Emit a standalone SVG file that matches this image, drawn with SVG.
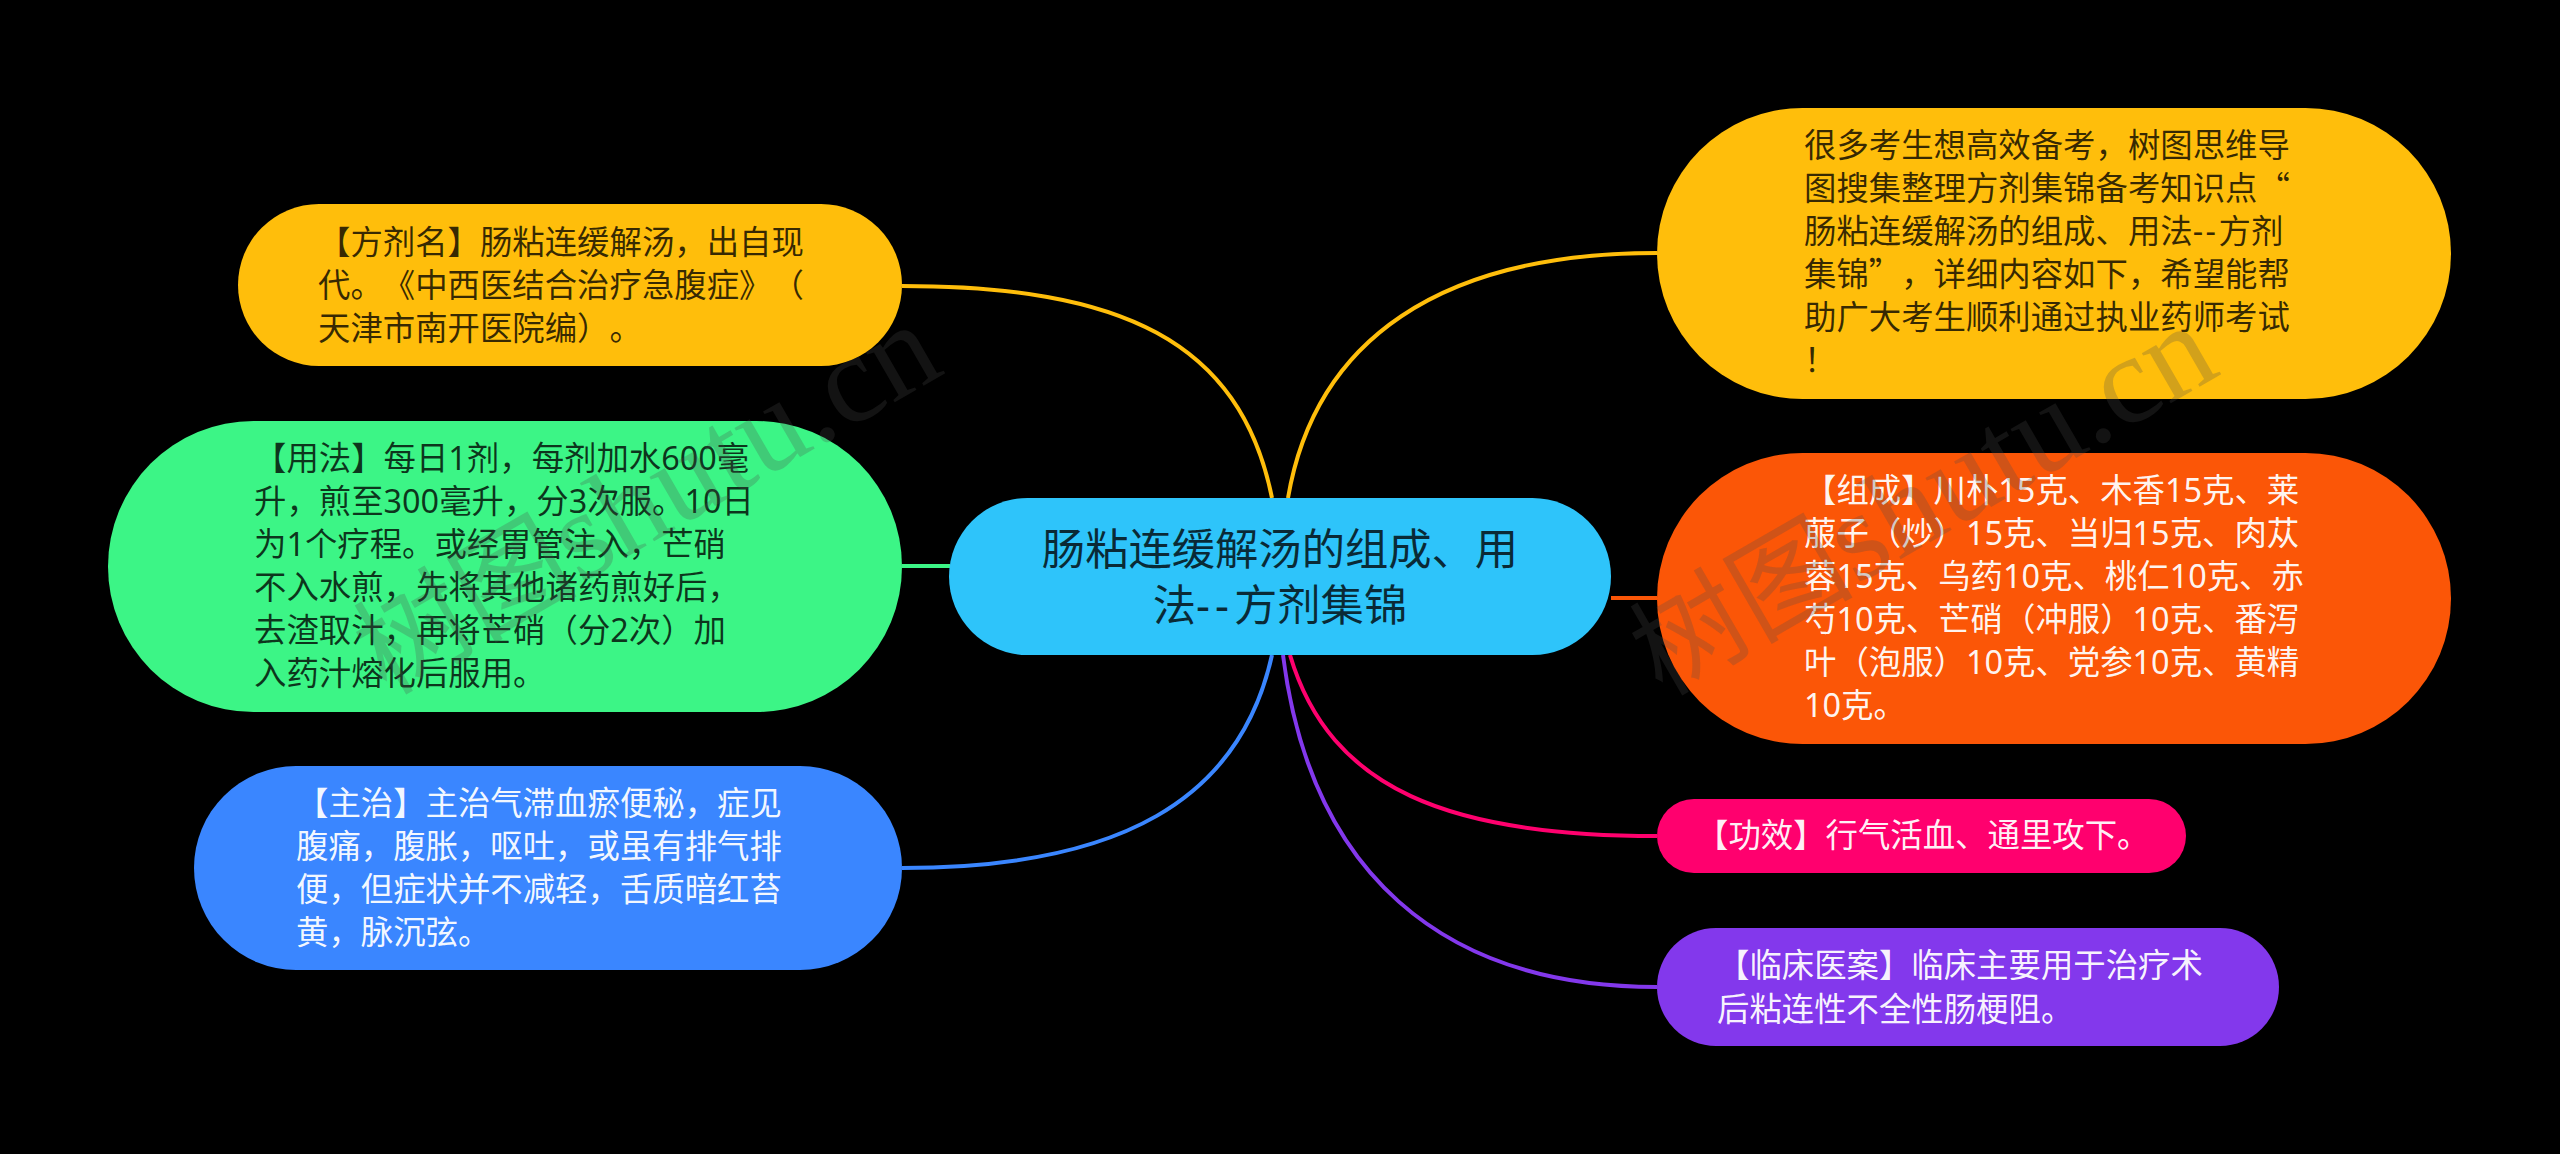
<svg xmlns="http://www.w3.org/2000/svg" width="2560" height="1154" viewBox="0 0 2560 1154">
<style>
text{font-family:"Noto Sans","Noto Sans CJK SC",sans-serif;font-size:32.4px;text-spacing-trim:space-all}
.q{font-family:"Noto Sans CJK SC",sans-serif}
.dk{fill:#000;fill-opacity:.78}
.lt{fill:#fff;fill-opacity:.96}
.ct{font-size:43.3px;text-anchor:middle}
.cn{fill:none;stroke-width:4;stroke-linecap:butt}
.wm{font-family:"Liberation Serif","Noto Sans CJK SC",serif;font-size:126px;fill:#4a4a4a;fill-opacity:.25}
.wc{font-family:"Noto Sans CJK SC",serif;font-size:112px;font-weight:400}
</style>
<rect width="2560" height="1154" fill="#000"/>
<g id="connectors">
<path class="cn" stroke="#ffbe0b" d="M902 286C1120 286 1240 340 1272 498"/>
<path class="cn" stroke="#ffbe0b" d="M1288 498C1315 340 1440 253 1657 253"/>
<path class="cn" stroke="#3cf586" d="M902 566H950"/>
<path class="cn" stroke="#fb5607" d="M1611 598H1657"/>
<path class="cn" stroke="#3a86ff" d="M902 868C1120 868 1240 800 1272 655"/>
<path class="cn" stroke="#ff006e" d="M1290 655C1330 790 1450 836 1657 836"/>
<path class="cn" stroke="#8338ec" d="M1283 655C1310 870 1440 987 1657 987"/>
</g>
<g id="node-center">
<rect x="949" y="498" width="662" height="157" rx="78.5" fill="#2ec4fa"/>
<text class="ct dk"><tspan x="1280" y="565">肠粘连缓解汤的组成、用</tspan><tspan x="1280" y="621">法<tspan letter-spacing="5">--</tspan>方剂集锦</tspan></text>
</g>
<g id="node-name">
<rect x="238" y="204" width="664" height="162" rx="81" fill="#ffbe0b"/>
<text class="dk"><tspan x="318" y="254">【方剂名】肠粘连缓解汤，出自现</tspan><tspan x="318" y="297">代。《中西医结合治疗急腹症》（</tspan><tspan x="318" y="340">天津市南开医院编）。</tspan></text>
</g>
<g id="node-usage">
<rect x="108" y="421" width="794" height="291" rx="145.5" fill="#3cf586"/>
<text class="dk"><tspan x="254" y="470">【用法】每日1剂，每剂加水600毫</tspan><tspan x="254" y="513">升，煎至300毫升，分3次服。10日</tspan><tspan x="254" y="556">为1个疗程。或经胃管注入，芒硝</tspan><tspan x="254" y="599">不入水煎，先将其他诸药煎好后，</tspan><tspan x="254" y="642">去渣取汁，再将芒硝（分2次）加</tspan><tspan x="254" y="685">入药汁熔化后服用。</tspan></text>
</g>
<g id="node-indication">
<rect x="194" y="766" width="708" height="204" rx="102" fill="#3a86ff"/>
<text class="lt"><tspan x="296" y="815">【主治】主治气滞血瘀便秘，症见</tspan><tspan x="296" y="858">腹痛，腹胀，呕吐，或虽有排气排</tspan><tspan x="296" y="901">便，但症状并不减轻，舌质暗红苔</tspan><tspan x="296" y="944">黄，脉沉弦。</tspan></text>
</g>
<g id="node-intro">
<rect x="1657" y="108" width="794" height="291" rx="145.5" fill="#ffbe0b"/>
<text class="dk"><tspan x="1804" y="157">很多考生想高效备考，树图思维导</tspan><tspan x="1804" y="200">图搜集整理方剂集锦备考知识点<tspan class="q">“</tspan></tspan><tspan x="1804" y="243">肠粘连缓解汤的组成、用法<tspan letter-spacing="2.5">--</tspan>方剂</tspan><tspan x="1804" y="286">集锦<tspan class="q">”</tspan>，详细内容如下，希望能帮</tspan><tspan x="1804" y="329">助广大考生顺利通过执业药师考试</tspan><tspan x="1804" y="372">！</tspan></text>
</g>
<g id="node-composition">
<rect x="1657" y="453" width="794" height="291" rx="145.5" fill="#fb5607"/>
<text class="lt"><tspan x="1804" y="502">【组成】川朴15克、木香15克、莱</tspan><tspan x="1804" y="545">菔子（炒）15克、当归15克、肉苁</tspan><tspan x="1804" y="588">蓉15克、乌药10克、桃仁10克、赤</tspan><tspan x="1804" y="631">芍10克、芒硝（冲服）10克、番泻</tspan><tspan x="1804" y="674">叶（泡服）10克、党参10克、黄精</tspan><tspan x="1804" y="717">10克。</tspan></text>
</g>
<g id="node-effect">
<rect x="1657" y="799" width="529" height="74" rx="37" fill="#ff006e"/>
<text class="lt"><tspan x="1696" y="847">【功效】行气活血、通里攻下。</tspan></text>
</g>
<g id="node-clinical">
<rect x="1657" y="928" width="622" height="118" rx="59" fill="#8338ec"/>
<text class="lt"><tspan x="1717" y="977">【临床医案】临床主要用于治疗术</tspan><tspan x="1717" y="1021">后粘连性不全性肠梗阻。</tspan></text>
</g>
<g id="watermark">
<text class="wm" transform="translate(386 696) rotate(-30)"><tspan class="wc">树图</tspan>shutu.cn</text>
<text class="wm" transform="translate(1662 697) rotate(-30)"><tspan class="wc">树图</tspan>shutu.cn</text>
</g>
</svg>
